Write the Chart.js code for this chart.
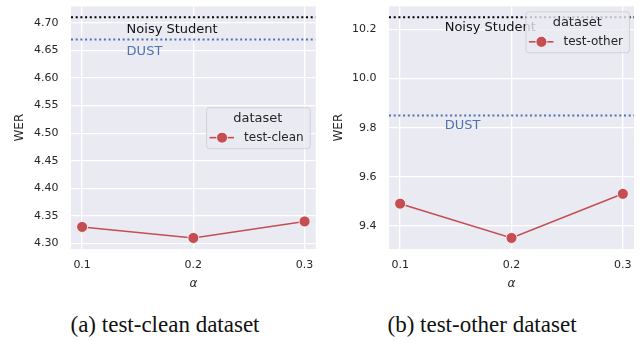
<!DOCTYPE html>
<html>
<head>
<meta charset="utf-8">
<script src="https://cdn.jsdelivr.net/npm/chart.js@4.4.1/dist/chart.umd.min.js"></script>
<style>
  html, body { margin: 0; padding: 0; background: #fff; }
  body { width: 643px; height: 341px; position: relative; overflow: hidden; }
  canvas { position: absolute; top: 0; }
  #chartClean { left: 0; }
  #chartOther { left: 322px; }
  .caption {
    position: absolute; top: 310px; width: 320px; text-align: center;
    font-family: "Liberation Serif", "DejaVu Serif", serif; font-size: 23px; color: #111;
    line-height: 30px;
  }
</style>
</head>
<body>
<canvas id="chartClean" width="322" height="300"></canvas>
<canvas id="chartOther" width="321" height="300"></canvas>
<div class="caption" style="left:5px">(a) test-clean dataset</div>
<div class="caption" style="left:322px">(b) test-other dataset</div>

<script>
// values
var alphas = [0.1, 0.2, 0.3];
var xTicks = [0.1, 0.2, 0.3];
var werClean = [4.33, 4.31, 4.34];
var werOther = [9.49, 9.35, 9.53];
var noisyStudent = [4.71, 10.25];   // clean, other
var dust = [4.67, 9.85];            // clean, other
var cleanTicks = [4.30, 4.35, 4.40, 4.45, 4.50, 4.55, 4.60, 4.65, 4.70];
var otherTicks = [9.4, 9.6, 9.8, 10.0, 10.2];
var seriesNames = ['test-clean', 'test-other'];

var RED = '#C44E52';
var BLUE = '#4C72B0';
var INK = '#262626';
var FONT = 'DejaVu Sans';

function pts(xs, ys) {
    return xs.map(function (x, i) { return {x: x, y: ys[i]}; });
}

// shaded plot area, seaborn darkgrid style
var bgPlugin = {
    id: 'bg',
    beforeDraw: function (chart) {
        var a = chart.chartArea;
        var ctx = chart.ctx;
        ctx.save();
        ctx.fillStyle = '#EAEAF2';
        ctx.fillRect(a.left, a.top, a.right - a.left, a.bottom - a.top);
        ctx.restore();
    }
};

// text under the reference lines + the legend box
var notesPlugin = {
    id: 'notes',
    afterDraw: function (chart) {
        var o = chart.options.plugins.notes;
        var ctx = chart.ctx;
        var xs = chart.scales.x, ys = chart.scales.y;
        var a = chart.chartArea;
        ctx.save();
        ctx.font = '13px ' + FONT;
        ctx.textBaseline = 'middle';
        ctx.textAlign = 'left';
        for (var i = 0; i < o.labels.length; i++) {
            var n = o.labels[i];
            ctx.fillStyle = n.color;
            ctx.fillText(n.text, xs.getPixelForValue(0.14), ys.getPixelForValue(n.value) + o.dy);
        }

        // legend
        ctx.font = '12px ' + FONT;
        var lw = ctx.measureText(o.series).width;
        var w = Math.max(38 + lw + 6, 70);
        var h = 41;
        var right = a.right - o.legendPad;
        var left = right - w;
        var top = o.legendLoc === 'center' ? (a.top + a.bottom) / 2 - h / 2 : a.top + 5;
        ctx.beginPath();
        ctx.roundRect(left + 0.5, top + 0.5, w, h, 3);
        ctx.fillStyle = 'rgba(234,234,242,0.8)';
        ctx.fill();
        ctx.strokeStyle = 'rgba(204,204,204,0.8)';
        ctx.lineWidth = 1;
        ctx.stroke();

        ctx.fillStyle = INK;
        ctx.textAlign = 'center';
        ctx.font = '13px ' + FONT;
        ctx.fillText('dataset', left + w / 2, top + 11.5);

        var my = top + 30.5;
        ctx.strokeStyle = RED;
        ctx.lineWidth = 1.6;
        ctx.beginPath();
        ctx.moveTo(left + 3.5, my);
        ctx.lineTo(left + 28, my);
        ctx.stroke();
        ctx.beginPath();
        ctx.arc(left + 16, my, 5.5, 0, Math.PI * 2);
        ctx.fillStyle = RED;
        ctx.fill();
        ctx.strokeStyle = '#fff';
        ctx.lineWidth = 0.8;
        ctx.stroke();

        ctx.fillStyle = INK;
        ctx.textAlign = 'left';
        ctx.font = '12px ' + FONT;
        ctx.fillText(o.series, left + 38, my);
        ctx.restore();
    }
};

function makeChart(id, k, wer, yTicks, yMin, yMax, decimals, yWidth, padRight, titlePad, dy, legendLoc, legendPad) {
    var ctx = document.getElementById(id).getContext('2d');
    var xMin = 0.09, xMax = 0.31;
    return new Chart(ctx, {
        type: 'line',
        data: {
            datasets: [
                {
                    label: 'Noisy Student',
                    data: pts([xMin, xMax], [noisyStudent[k], noisyStudent[k]]),
                    borderColor: '#000',
                    borderWidth: 2,
                    borderDash: [2, 2.7],
                    pointRadius: 0,
                    fill: false
                },
                {
                    label: 'DUST',
                    data: pts([xMin, xMax], [dust[k], dust[k]]),
                    borderColor: BLUE,
                    borderWidth: 2,
                    borderDash: [2, 2.7],
                    pointRadius: 0,
                    fill: false
                },
                {
                    label: seriesNames[k],
                    data: pts(alphas, wer),
                    borderColor: RED,
                    borderWidth: 1.6,
                    pointRadius: 5.5,
                    pointBackgroundColor: RED,
                    pointBorderColor: '#fff',
                    pointBorderWidth: 0.8,
                    fill: false
                }
            ]
        },
        options: {
            responsive: false,
            animation: false,
            events: [],
            layout: { padding: { top: 5, right: padRight, left: 0, bottom: 0 } },
            plugins: {
                legend: { display: false },
                tooltip: { enabled: false },
                notes: {
                    labels: [
                        { text: 'Noisy Student', value: noisyStudent[k], color: '#111' },
                        { text: 'DUST', value: dust[k], color: BLUE }
                    ],
                    dy: dy,
                    series: seriesNames[k],
                    legendLoc: legendLoc,
                    legendPad: legendPad
                }
            },
            scales: {
                x: {
                    type: 'linear',
                    min: xMin,
                    max: xMax,
                    afterBuildTicks: function (s) { s.ticks = xTicks.map(function (v) { return {value: v}; }); },
                    afterFit: function (s) { s.height = 51; s.paddingLeft = 0; s.paddingRight = 0; },
                    border: { display: false },
                    grid: { color: '#fff', lineWidth: 1.3, drawTicks: false },
                    ticks: {
                        padding: 10,
                        color: INK,
                        font: { family: FONT, size: 11 },
                        callback: function (v) { return v.toFixed(1); }
                    },
                    title: {
                        display: true,
                        text: 'α',
                        color: INK,
                        font: { family: FONT, size: 12, style: 'italic' },
                        padding: { top: 0, bottom: 8.8 }
                    }
                },
                y: {
                    min: yMin,
                    max: yMax,
                    afterBuildTicks: function (s) { s.ticks = yTicks.map(function (v) { return {value: v}; }); },
                    afterFit: function (s) { s.width = yWidth; s.paddingTop = 0; s.paddingBottom = 0; },
                    border: { display: false },
                    grid: { color: '#fff', lineWidth: 1.3, drawTicks: false },
                    ticks: {
                        padding: 12.5,
                        color: INK,
                        font: { family: FONT, size: 11 },
                        callback: function (v) { return v.toFixed(decimals); }
                    },
                    title: {
                        display: true,
                        text: 'WER',
                        color: INK,
                        font: { family: FONT, size: 12 },
                        padding: { top: titlePad, bottom: 0 }
                    }
                }
            }
        },
        plugins: [bgPlugin, notesPlugin]
    });
}

document.addEventListener('DOMContentLoaded', function () {
    makeChart('chartClean', 0, werClean, cleanTicks, 4.29, 4.73, 2, 71, 6, 12.8, 12.5, 'center', 6);
    makeChart('chartOther', 1, werOther, otherTicks, 9.305, 10.295, 1, 67, 9, 9.5, 10.5, 'upper', 5);
});
</script>
</body>
</html>
